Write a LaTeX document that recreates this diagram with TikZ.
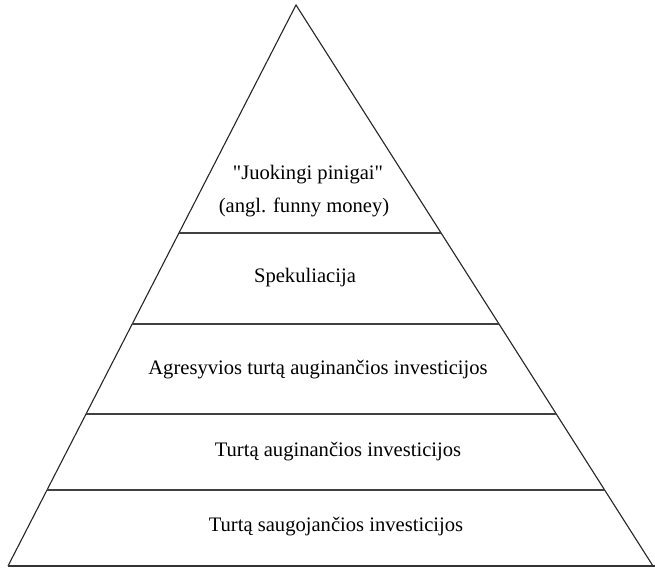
\documentclass[tikz,border=0pt]{standalone}
\usepackage{fontspec}
\setmainfont{Liberation Serif}
\usetikzlibrary{calc}
\tikzset{
  edge/.style={line width=1.1pt, black!85},
  band/.style={line width=1.1pt, black!75},
  label/.style={font=\fontsize{20.6}{24}\selectfont, inner sep=0pt, align=center}
}
\begin{document}
\begin{tikzpicture}[x=1pt, y=-1pt]
  \useasboundingbox (0,0) rectangle (655,569);
  % corners of the pyramid
  \coordinate (apex) at (296,5);
  \coordinate (bl) at (8,566);
  \coordinate (br) at (653,566);
  % sides and base
  \draw[edge, line join=miter] (bl) -- (apex) -- (br);
  \draw[line width=2pt, black!80] (bl) -- (655,566);
  % level separators, clipped to the sides
  \foreach \yy/\nm in {233/a, 324/b, 414/c, 490/d} {
    \draw[band] ($(apex)!{(\yy-5)/561}!(bl)$) -- ($(apex)!{(\yy-5)/561}!(br)$);
  }
  % level labels
  \node[label] (l1) at (308,175) {\textquotedbl Juokingi pinigai\textquotedbl};
  \node[label] (l1b) at (304,207) {(angl. funny money)};
  \node[label] (l2) at (305,278) {Spekuliacija};
  \node[label] (l3) at (318,370) {Agresyvios turtą auginančios investicijos};
  \node[label] (l4) at (338,452) {Turtą auginančios investicijos};
  \node[label] (l5) at (336,527) {Turtą saugojančios investicijos};
\end{tikzpicture}
\end{document}
